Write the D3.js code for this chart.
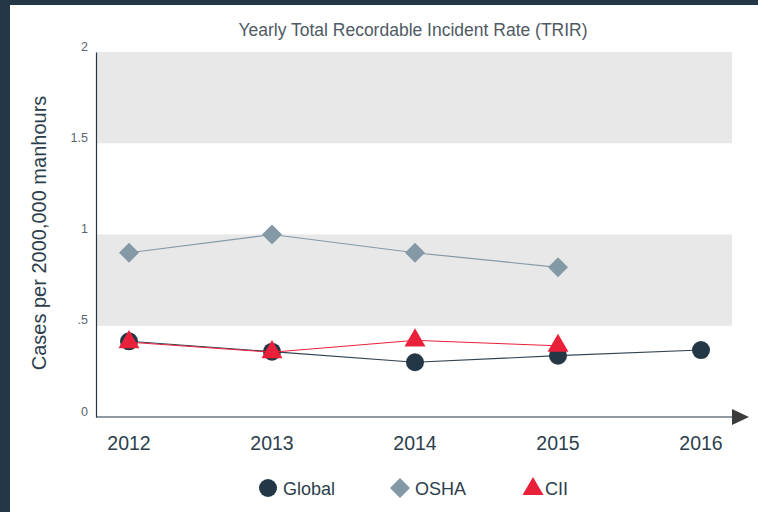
<!DOCTYPE html>
<html>
<head>
<meta charset="utf-8">
<script src="https://cdn.jsdelivr.net/npm/d3@7"></script>
<style>
  html, body { margin: 0; padding: 0; background: #233746; }
  #chart { position: absolute; left: 10px; top: 5px; width: 748px; height: 507px; background: #fff; }
  text { font-family: "Liberation Sans", Arial, sans-serif; }
</style>
</head>
<body>
<div id="chart"></div>
<script>
const years = ["2012", "2013", "2014", "2015", "2016"];
const globalValues = [0.415, 0.358, 0.3, 0.336, 0.367];
const oshaValues = [0.9, 1.0, 0.9, 0.82];
const ciiValues = [0.41, 0.355, 0.42, 0.39];
const yTicks = [0, 0.5, 1, 1.5, 2];
const yTickLabels = ["0", ".5", "1", "1.5", "2"];
const bands = [[0.5, 1], [1.5, 2]];

const width = 748, height = 507;
// chart area inside the white panel (panel sits at 10,5)
const plotLeft = 86, plotRight = 722, plotTop = 47, plotBottom = 412;

const svg = d3.select("#chart")
  .append("svg")
  .attr("width", width)
  .attr("height", height);

const x = d3.scalePoint()
  .domain(years)
  .range([119, 691]);

const y = d3.scaleLinear()
  .domain([0, 2])
  .range([plotBottom, plotTop]);

// grey bands
svg.selectAll(".band")
  .data(bands)
  .enter()
  .append("rect")
  .attr("class", "band")
  .attr("x", plotLeft)
  .attr("width", plotRight - plotLeft)
  .attr("y", d => y(d[1]))
  .attr("height", d => y(d[0]) - y(d[1]))
  .attr("fill", "#e8e8e8");

// title
svg.append("text")
  .attr("x", 403)
  .attr("y", 31)
  .attr("text-anchor", "middle")
  .attr("font-size", 17.5)
  .attr("fill", "#4f5a64")
  .text("Yearly Total Recordable Incident Rate (TRIR)");

// y axis
const yAxis = svg.append("g")
  .attr("transform", `translate(${plotLeft},0)`)
  .call(d3.axisLeft(y).tickValues(yTicks).tickFormat((d, i) => yTickLabels[i]).tickSize(0).tickPadding(8));
yAxis.select(".domain").attr("stroke", "#233746").attr("stroke-width", 1.2);
yAxis.selectAll("text")
  .attr("font-size", 12.5)
  .attr("fill", "#5a6570")
  .attr("dy", "-0.15em");

// x axis line with arrow
svg.append("line")
  .attr("x1", plotLeft).attr("x2", plotRight + 4)
  .attr("y1", y(0)).attr("y2", y(0))
  .attr("stroke", "#233746")
  .attr("stroke-width", 1.2);
svg.append("path")
  .attr("d", `M${plotRight},${y(0) - 8}L${plotRight + 17},${y(0)}L${plotRight},${y(0) + 8}Z`)
  .attr("fill", "#3c3c3c");

svg.selectAll(".xlabel")
  .data(years)
  .enter()
  .append("text")
  .attr("class", "xlabel")
  .attr("x", d => x(d))
  .attr("y", 445)
  .attr("text-anchor", "middle")
  .attr("font-size", 19.5)
  .attr("fill", "#2c3e4c")
  .text(d => d);

// y label
svg.append("text")
  .attr("transform", `translate(36,${228}) rotate(-90)`)
  .attr("text-anchor", "middle")
  .attr("font-size", 20)
  .attr("fill", "#2c3e4c")
  .text("Cases per 2000,000 manhours");

const line = d3.line()
  .x((d, i) => x(years[i]))
  .y(d => y(d));

const diamond = d3.symbol().type(d3.symbolSquare).size(200);
const triangle = d3.symbol().type(d3.symbolTriangle).size(190);

// OSHA
svg.append("path")
  .attr("d", line(oshaValues))
  .attr("fill", "none")
  .attr("stroke", "#8499a6")
  .attr("stroke-width", 1.2);
svg.selectAll(".osha")
  .data(oshaValues)
  .enter()
  .append("path")
  .attr("class", "osha")
  .attr("d", diamond)
  .attr("transform", (d, i) => `translate(${x(years[i])},${y(d)}) rotate(45)`)
  .attr("fill", "#8499a6");

// Global
svg.append("path")
  .attr("d", line(globalValues))
  .attr("fill", "none")
  .attr("stroke", "#2f4352")
  .attr("stroke-width", 1.2);
svg.selectAll(".global")
  .data(globalValues)
  .enter()
  .append("circle")
  .attr("class", "global")
  .attr("cx", (d, i) => x(years[i]))
  .attr("cy", d => y(d))
  .attr("r", 9)
  .attr("fill", "#233746");

// CII
svg.append("path")
  .attr("d", line(ciiValues))
  .attr("fill", "none")
  .attr("stroke", "#e8203a")
  .attr("stroke-width", 1);
svg.selectAll(".cii")
  .data(ciiValues)
  .enter()
  .append("path")
  .attr("class", "cii")
  .attr("d", triangle)
  .attr("transform", (d, i) => `translate(${x(years[i])},${y(d)})`)
  .attr("fill", "#e8203a");

// legend
const legend = svg.append("g").attr("transform", "translate(0,483)");
legend.append("circle").attr("cx", 258).attr("cy", 0).attr("r", 9).attr("fill", "#233746");
legend.append("text").attr("x", 273).attr("y", 6.5).attr("font-size", 18).attr("fill", "#2c3e4c").text("Global");
legend.append("path").attr("d", diamond).attr("transform", "translate(390,0) rotate(45)").attr("fill", "#8499a6");
legend.append("text").attr("x", 405).attr("y", 6.5).attr("font-size", 18).attr("fill", "#2c3e4c").text("OSHA");
legend.append("path").attr("d", triangle).attr("transform", "translate(523,1)").attr("fill", "#e8203a");
legend.append("text").attr("x", 535).attr("y", 6.5).attr("font-size", 18).attr("fill", "#2c3e4c").text("CII");
</script>
</body>
</html>
